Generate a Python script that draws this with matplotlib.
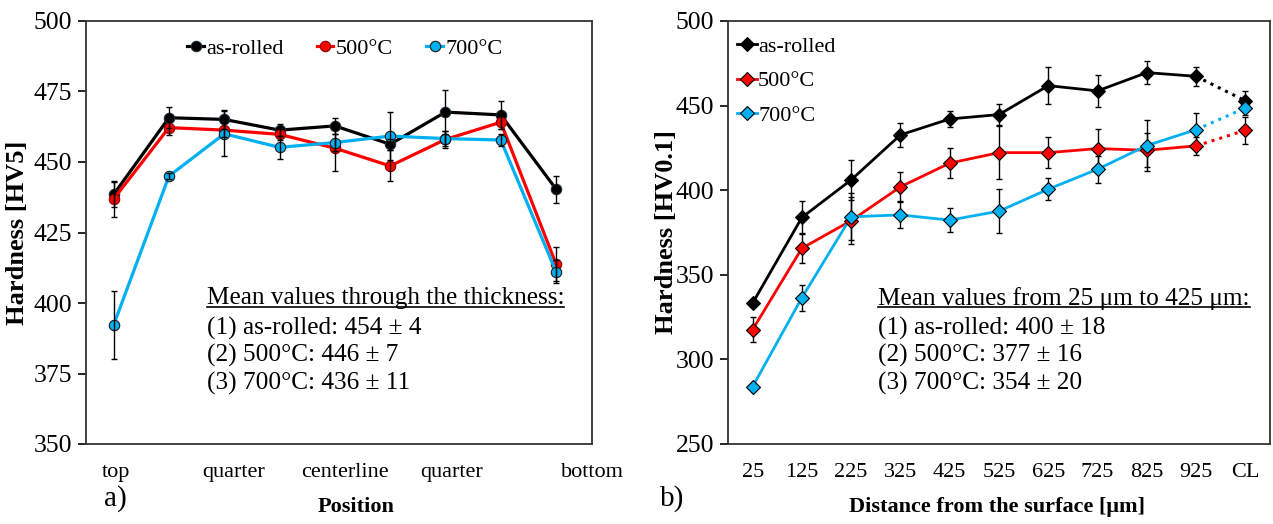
import matplotlib.pyplot as plt

plt.rcParams['font.family'] = ['Liberation Serif', 'DejaVu Serif']

# ---- a) hardness through the thickness (HV5) ----
pos_n = [0, 1, 2, 3, 4, 5, 6, 7, 8]
pos_labels = ['top', 'quarter', 'centerline', 'quarter', 'bottom']
pos_label_at = [0.04, 2.17, 4.19, 6.11, 8.65]

a_rolled = [438.5, 465.7, 465.1, 461.3, 462.8, 456.3, 467.7, 466.7, 440.4]
a_rolled_err = [4.5, 3.7, 3.5, 2.0, 2.7, 2.0, 7.8, 5.0, 4.8]
a_500 = [436.9, 462.2, 461.3, 459.8, 454.9, 448.6, 458.0, 464.1, 413.8]
a_500_err = [6.3, 2.5, 2.5, 2.0, 8.0, 5.5, 3.0, 2.5, 6.0]
a_700 = [392.2, 445.0, 460.0, 455.2, 456.9, 459.2, 458.3, 457.8, 411.1]
a_700_err = [12.0, 1.0, 8.0, 4.0, 3.0, 8.5, 2.8, 2.0, 4.0]

# ---- b) hardness vs distance from surface (HV0.1) ----
dist_n = [0, 1, 2, 3, 4, 5, 6, 7, 8, 9, 10]
dist_labels = ['25', '125', '225', '325', '425', '525', '625', '725', '825', '925', 'CL']

b_rolled = [333.3, 383.9, 406.1, 432.7, 442.1, 444.7, 461.8, 458.7, 469.5, 467.3, 452.8]
b_rolled_err = [2.0, 10.0, 12.0, 7.0, 5.0, 6.0, 11.0, 9.5, 7.0, 5.5, 6.0]
b_500 = [317.6, 365.7, 382.0, 402.0, 416.0, 422.2, 422.2, 424.6, 423.6, 426.2, 435.4]
b_500_err = [7.4, 9.0, 14.0, 9.0, 9.0, 15.5, 9.0, 11.5, 10.0, 5.5, 8.0]
b_700 = [283.9, 336.5, 384.3, 385.4, 382.3, 387.6, 400.6, 412.4, 426.4, 435.8, 448.6]
b_700_err = [2.0, 7.7, 14.0, 8.0, 7.0, 13.0, 6.5, 8.0, 15.0, 10.0, 4.0]

names = ['as-rolled', '500°C', '700°C']
colors = ['black', '#ff0000', '#00b0f0']

text_a = ['Mean values through the thickness:',
          '(1) as-rolled: 454 ± 4',
          '(2) 500°C: 446 ± 7',
          '(3) 700°C: 436 ± 11']
text_b = ['Mean values from 25 μm to 425 μm:',
          '(1) as-rolled: 400 ± 18',
          '(2) 500°C: 377 ± 16',
          '(3) 700°C: 354 ± 20']

fig = plt.figure(figsize=(12.73, 5.24), dpi=100)
ax1 = fig.add_axes([86/1273, 1-444/524, 506/1273, 423/524])
ax2 = fig.add_axes([728/1273, 1-444/524, 542/1273, 423/524])

# left panel
edge_a = ['#1a2e3a', '#8b0000', '#1a1a1a']
for y, e, c, ec, lab in zip([a_rolled, a_500, a_700], [a_rolled_err, a_500_err, a_700_err],
                            colors, edge_a, names):
    ax1.plot(pos_n, y, '-o', color=c, lw=2.3, ms=7.5, mfc=c, mec=ec, mew=0.8,
             label=lab, zorder=2)
    ax1.errorbar(pos_n, y, yerr=e, fmt='none', ecolor='black', elinewidth=1,
                 capsize=2.5, capthick=1, zorder=3)

ax1.set_xlim(-0.5, 8.5)
ax1.set_ylim(350, 500)
ax1.set_yticks([350, 375, 400, 425, 450, 475, 500])
ax1.set_xticks(pos_label_at)
ax1.set_xticklabels(pos_labels)
ax1.tick_params(axis='x', length=0, pad=14, labelsize=16)
ax1.tick_params(axis='y', direction='out', length=6, width=1.2, pad=4, labelsize=18.5)
ax1.set_ylabel('Hardness [HV5]', fontsize=19, fontweight='bold')
ax1.yaxis.set_label_coords(-0.113, 0.5)
ax1.set_xlabel('Position', fontsize=16, fontweight='bold')
ax1.xaxis.set_label_coords(0.534, -0.126)
ax1.legend(loc='center left', bbox_to_anchor=(0.2, 0.935), ncol=3, frameon=False,
           fontsize=16, handlelength=0.75, handletextpad=0.1, columnspacing=1.5,
           borderpad=0, borderaxespad=0)

# right panel
for y, e, c, lab in zip([b_rolled, b_500, b_700], [b_rolled_err, b_500_err, b_700_err],
                        colors, names):
    ax2.plot(dist_n[:10], y[:10], '-', color=c, lw=2, zorder=2)
    ax2.plot(dist_n[9:], y[9:], ':', color=c, lw=2.2, zorder=2)
    ax2.errorbar(dist_n, y, yerr=e, fmt='none', ecolor='black', elinewidth=1,
                 capsize=2.5, capthick=1, zorder=3)
    ax2.plot(dist_n, y, 'D', color=c, ms=7, mfc=c, mec='black', mew=0.8, zorder=4)
    ax2.plot([], [], '-D', color=c, lw=2, ms=7, mfc=c, mec='black', mew=0.8, label=lab)

ax2.set_xlim(-0.5, 10.5)
ax2.set_ylim(250, 500)
ax2.set_yticks([250, 300, 350, 400, 450, 500])
ax2.set_xticks(dist_n)
ax2.set_xticklabels(dist_labels)
ax2.tick_params(axis='x', length=0, pad=14, labelsize=16)
ax2.tick_params(axis='y', direction='out', length=6, width=1.2, pad=4, labelsize=18.5)
ax2.set_ylabel('Hardness [HV0.1]', fontsize=19, fontweight='bold')
ax2.yaxis.set_label_coords(-0.092, 0.5)
ax2.set_xlabel('Distance from the surface [μm]', fontsize=16, fontweight='bold')
ax2.xaxis.set_label_coords(0.496, -0.125)
ax2.legend(loc='upper left', bbox_to_anchor=(-0.012, 1.0), frameon=False,
           fontsize=16, handlelength=0.9, handletextpad=0.05, labelspacing=0.62,
           borderpad=0.2)

for ax in (ax1, ax2):
    for s in ax.spines.values():
        s.set_color('#333333')
        s.set_linewidth(1.3)

# mean value boxes
line_y = [0.345, 0.274, 0.210, 0.144]
heads = []
for ax, lines, x0 in ((ax1, text_a, 0.239), (ax2, text_b, 0.277)):
    for i, (t, yy) in enumerate(zip(lines, line_y)):
        h = ax.text(x0, yy, t, transform=ax.transAxes, fontsize=18.2,
                    va='center', ha='left', zorder=5)
        if i == 0:
            heads.append((ax, h))

fig.canvas.draw()
r = fig.canvas.get_renderer()
for ax, h in heads:
    bb = h.get_window_extent(renderer=r)
    inv = ax.transAxes.inverted()
    (x0, y0), (x1, y1) = inv.transform([(bb.x0, bb.y0), (bb.x1, bb.y1)])
    yl = y0 + 2.5/423
    ax.plot([x0, x1], [yl, yl], color='black', lw=1.2, transform=ax.transAxes,
            clip_on=False)

fig.text(115/1273, 1-499/524, 'a)', fontsize=21, ha='center', va='center')
fig.text(672/1273, 1-499/524, 'b)', fontsize=21, ha='center', va='center')

fig.savefig('out.png', dpi=100)
